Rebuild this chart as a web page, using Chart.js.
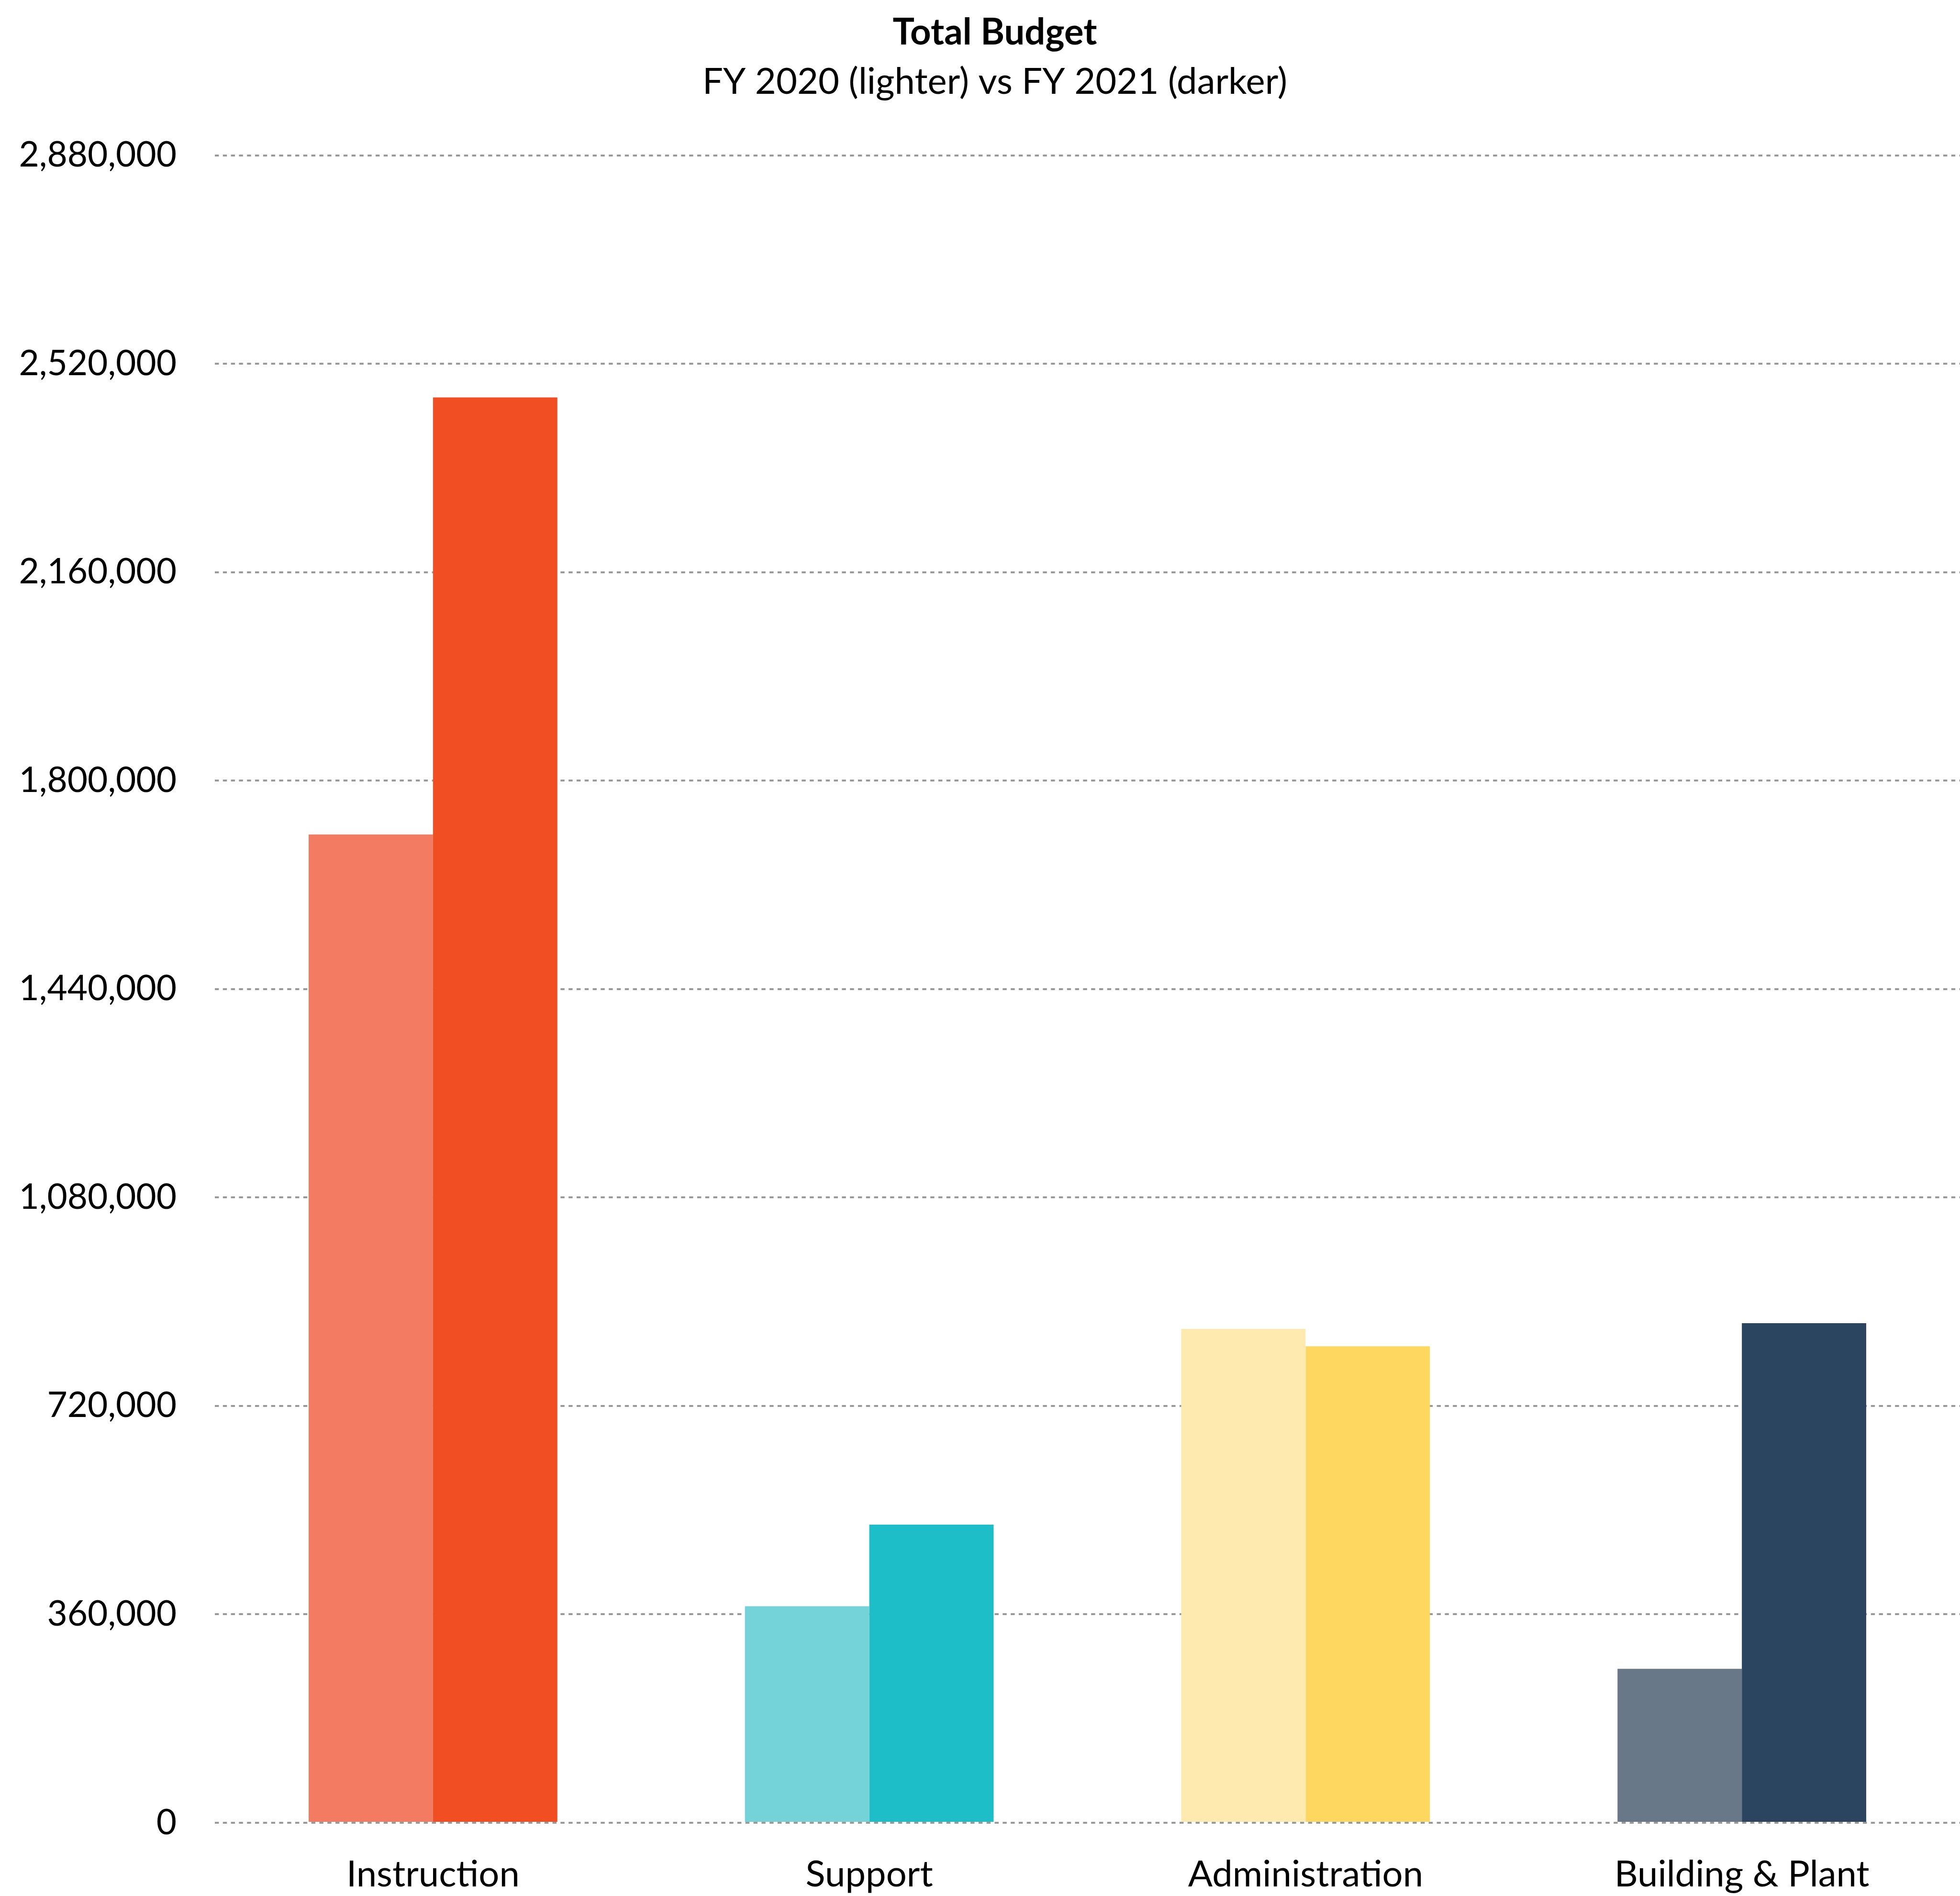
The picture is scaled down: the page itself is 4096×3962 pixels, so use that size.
<!DOCTYPE html>
<html>
<head>
<meta charset="utf-8">
<script src="https://cdn.jsdelivr.net/npm/chart.js@4.4.1/dist/chart.umd.min.js"></script>
<style>
html,body{margin:0;padding:0;background:#fff;}
canvas{display:block;}
</style>
</head>
<body>
<canvas id="c" width="4096" height="3962"></canvas>
<script>
const categories = ["Instruction", "Support", "Administration", "Building & Plant"];
const fy2020 = [1707000, 374000, 853000, 266000];
const fy2021 = [2462000, 515000, 823000, 863000];
const yTicks = [0, 360000, 720000, 1080000, 1440000, 1800000, 2160000, 2520000, 2880000];
const lightColors = ["#F37B62", "#73D3D9", "#FEE9AF", "#687888"];
const darkColors = ["#F24E23", "#1EBEC8", "#FED760", "#2B4560"];

const FONT = "Lato";
const FS = 76;
const FSY = 73;

new Chart(document.getElementById('c'), {
  type: 'bar',
  data: {
    labels: categories,
    datasets: [
      { label: "FY 2020", data: fy2020, backgroundColor: lightColors, borderWidth: 0 },
      { label: "FY 2021", data: fy2021, backgroundColor: darkColors, borderWidth: 0 }
    ]
  },
  options: {
    responsive: false,
    animation: false,
    devicePixelRatio: 1,
    layout: { padding: { left: 62, right: 0, top: 0, bottom: 0 } },
    datasets: { bar: { barPercentage: 1.0, categoryPercentage: 0.57 } },
    plugins: {
      legend: { display: false },
      tooltip: { enabled: false },
      title: {
        display: true,
        text: "Total Budget",
        color: "#000",
        font: { family: FONT, size: FS, weight: "bold" },
        padding: { top: 23, bottom: 0 }
      },
      subtitle: {
        display: true,
        text: "FY 2020 (lighter) vs FY 2021 (darker)",
        color: "#000",
        font: { family: FONT, size: FS, weight: "normal" },
        padding: { top: 12, bottom: 107.3 }
      }
    },
    scales: {
      x: {
        grid: { display: false, drawTicks: false },
        border: { display: false },
        ticks: { color: "#000", font: { family: FONT, size: FS }, padding: 63, maxRotation: 0 },
        afterFit: (s) => { s.height = 153; }
      },
      y: {
        min: 0,
        max: 2880000,
        afterBuildTicks: (s) => { s.ticks = yTicks.map(v => ({ value: v })); },
        grid: { color: "#999999", lineWidth: 4, drawTicks: false, tickLength: 0 },
        border: { display: false, dash: [8.4, 8.4] },
        ticks: {
          color: "#000",
          font: { family: FONT, size: FSY },
          padding: 80,
          callback: (v) => Number(v).toLocaleString('en-US')
        },
        afterFit: (s) => { s.width = 387; s._computeLabelArea = () => undefined; }
      }
    }
  }
});
</script>
</body>
</html>
